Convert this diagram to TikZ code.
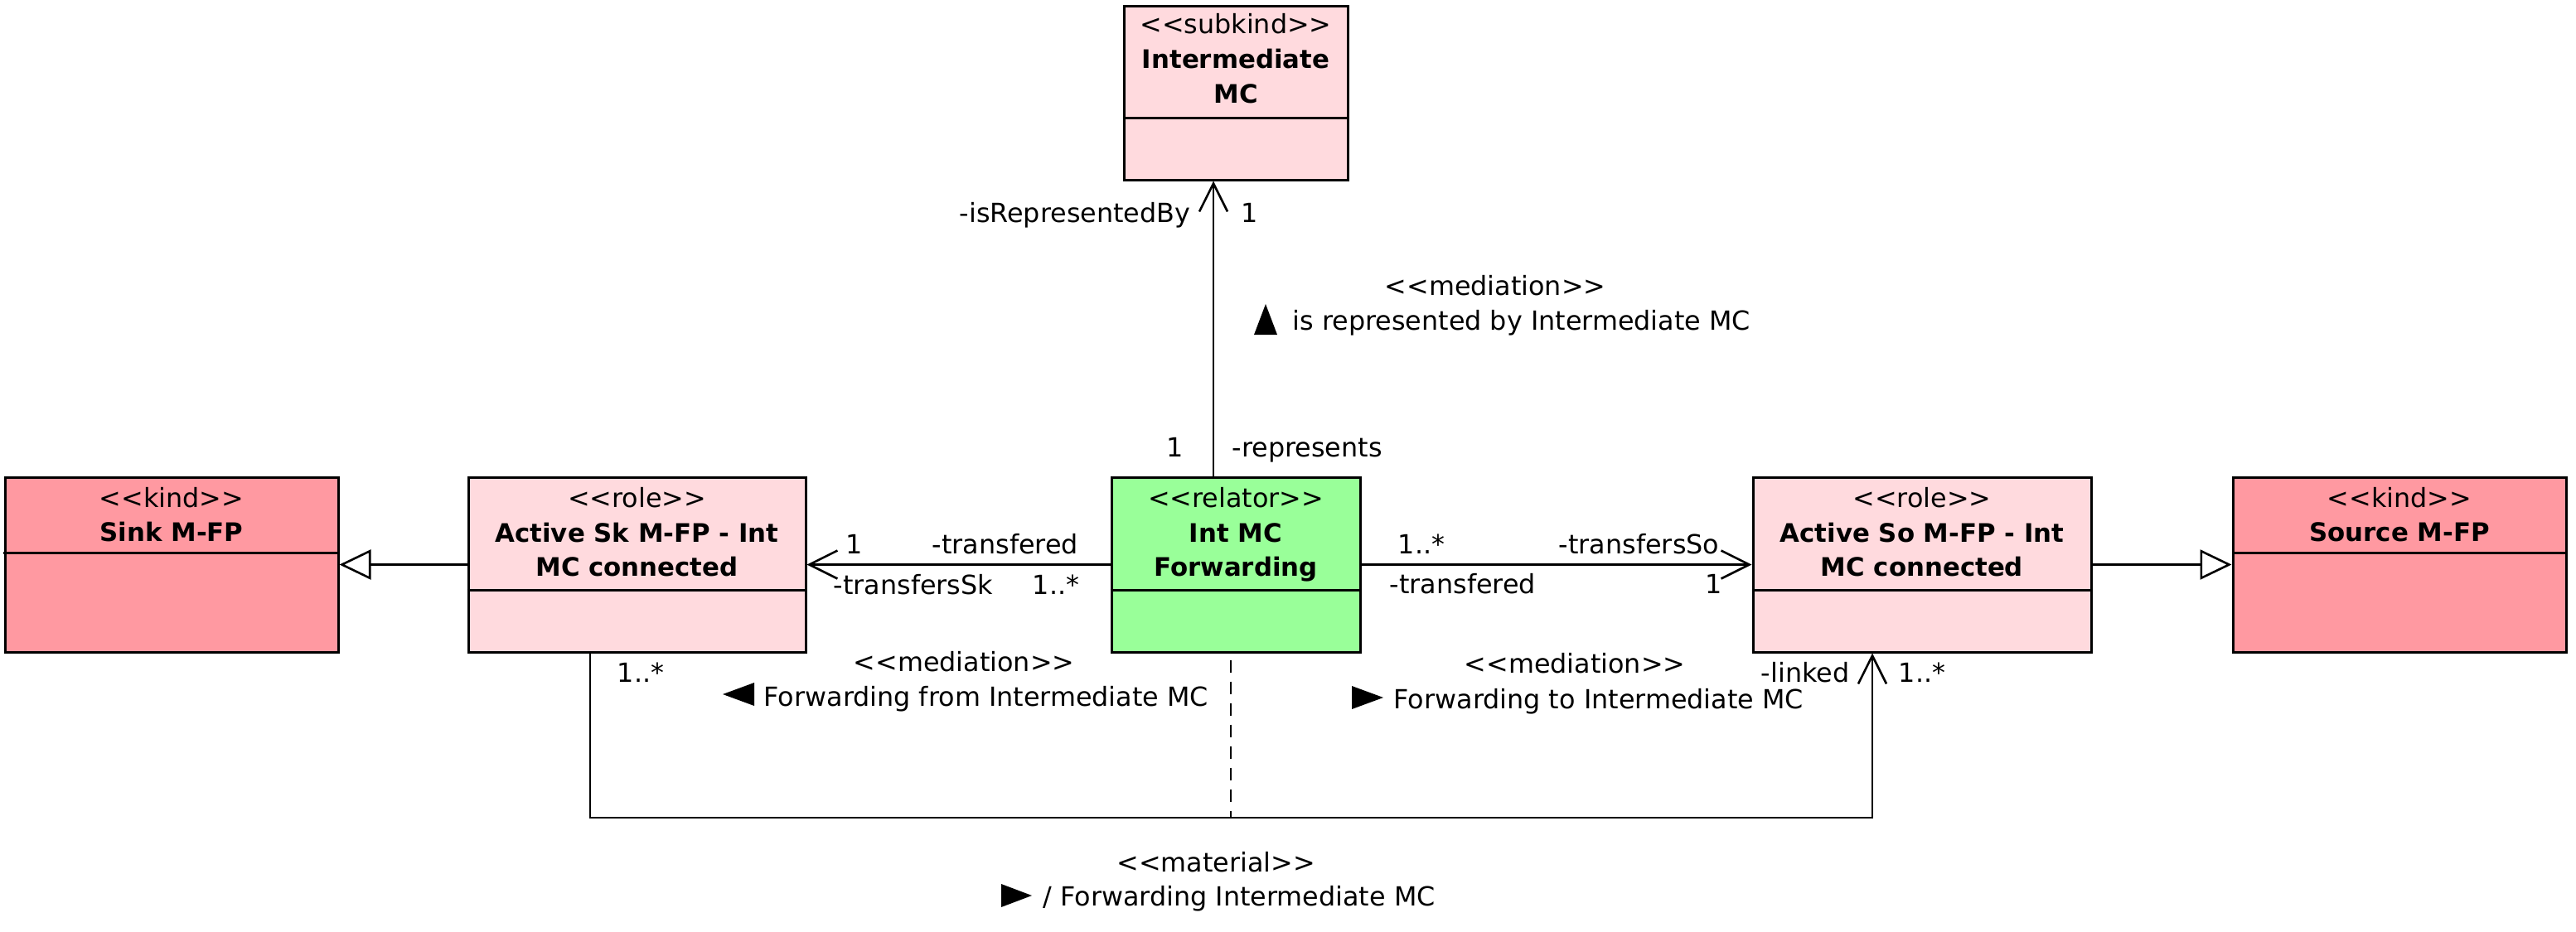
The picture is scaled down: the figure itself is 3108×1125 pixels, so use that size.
\documentclass[tikz,border=0pt]{standalone}
\usepackage{fontspec}
\setmainfont{DejaVu Sans}
\usetikzlibrary{arrows.meta,fit}
\definecolor{kindc}{HTML}{FF99A1}
\definecolor{rolec}{HTML}{FFDADE}
\definecolor{relc}{HTML}{99FF99}
\newcommand{\stereo}[1]{<\kern0pt<#1>\kern0pt>}
\begin{document}
\begin{tikzpicture}[x=0.25pt,y=-0.25pt,
  box/.style={draw,line width=0.75pt,inner sep=0pt},
  txt/.style={inner sep=0pt,font=\fontsize{7.95}{10.25}\selectfont},
  bold/.style={inner sep=0pt,font=\fontsize{7.7}{10.25}\selectfont\bfseries},
  divider/.style={line width=0.75pt},
  conn/.style={line width=0.65pt},
  opena/.style={conn,-{Straight Barb[length=8.5pt,width=8.5pt]}},
  gen/.style={conn,-{Triangle[open,length=9.5pt,width=9pt,fill=white]}},
]
\useasboundingbox (0,0) rectangle (3108,1125);

% boxes
\node[box,fill=rolec,fit={(1356,7) (1626,217)}] (imc) {};
\draw[divider] (imc.west |- 0,142) -- (imc.east |- 0,142);
\node[txt,anchor=base] (imcs) at (imc.center |- 0,40) {\stereo{subkind}};
\node[bold,anchor=base] (imcn1) at (imc.center |- 0,82) {Intermediate};
\node[bold,anchor=base] (imcn2) at (imc.center |- 0,124) {MC};

\node[box,fill=kindc,fit={(6,576) (408,787)}] (sink) {};
\draw[divider] (sink.west |- 0,667) -- (sink.east |- 0,667);
\node[txt,anchor=base] (sinks) at (sink.center |- 0,612) {\stereo{kind}};
\node[bold,anchor=base] (sinkn) at (sink.center |- 0,653) {Sink M-FP};

\node[box,fill=rolec,fit={(565,576) (972,787)}] (ask) {};
\draw[divider] (ask.west |- 0,712) -- (ask.east |- 0,712);
\node[txt,anchor=base] (asks) at (ask.center |- 0,612) {\stereo{role}};
\node[bold,anchor=base] (askn1) at (ask.center |- 0,654) {Active Sk M-FP - Int};
\node[bold,anchor=base] (askn2) at (ask.center |- 0,695) {MC connected};

\node[box,fill=relc,fit={(1341,576) (1641,787)}] (rel) {};
\draw[divider] (rel.west |- 0,712) -- (rel.east |- 0,712);
\node[txt,anchor=base] (rels) at (rel.center |- 0,612) {\stereo{relator}};
\node[bold,anchor=base] (reln1) at (rel.center |- 0,654) {Int MC};
\node[bold,anchor=base] (reln2) at (rel.center |- 0,695) {Forwarding};

\node[box,fill=rolec,fit={(2115,576) (2523,787)}] (aso) {};
\draw[divider] (aso.west |- 0,712) -- (aso.east |- 0,712);
\node[txt,anchor=base] (asos) at (aso.center |- 0,612) {\stereo{role}};
\node[bold,anchor=base] (ason1) at (aso.center |- 0,654) {Active So M-FP - Int};
\node[bold,anchor=base] (ason2) at (aso.center |- 0,695) {MC connected};

\node[box,fill=kindc,fit={(2694,576) (3096,787)}] (src) {};
\draw[divider] (src.west |- 0,667) -- (src.east |- 0,667);
\node[txt,anchor=base] (srcs) at (src.center |- 0,612) {\stereo{kind}};
\node[bold,anchor=base] (srcn) at (src.center |- 0,653) {Source M-FP};

% connectors
\draw[opena] ([xshift=-6.75pt]rel.north) -- ([xshift=-6.75pt]imc.south);
\draw[opena] (rel.west) -- (ask.east);
\draw[opena] (rel.east) -- (aso.west);
\draw[gen] (ask.west) -- (sink.east);
\draw[gen] (aso.east) -- (src.west);
\coordinate (mbot) at (1485,987);
\draw[conn] ([xshift=-14.125pt]ask.south) |- (mbot);
\draw[opena] (mbot) -| ([xshift=-15pt]aso.south);
\draw[conn,dash pattern=on 3.75pt off 2.75pt] ([xshift=-1.5pt,yshift=-2pt]rel.south) -- (mbot);

% labels: top mediation
\node[txt,anchor=base east] (a1) at (1437,268) {-isRepresentedBy};
\node[txt,anchor=base west] (a2) at (1497,268) {1};
\node[txt,anchor=base] (a3) at (1804,356) {\stereo{mediation}};
\node[txt,anchor=base west] (a4) at (1559,398) {is represented by Intermediate MC};
\fill (1527,367) -- (1513,404) -- (1541,404) -- cycle;
\node[txt,anchor=base east] (a5) at (1429,551) {1};
\node[txt,anchor=base west] (a6) at (1486,551) {-represents};

% labels: left association
\node[txt,anchor=base west] (b1) at (1020,668) {1};
\node[txt,anchor=base west] (b2) at (1124,668) {-transfered};
\node[txt,anchor=base west] (b3) at (1005,717) {-transfersSk};
\node[txt,anchor=base west] (b4) at (1245,717) {1..*};

% labels: right association
\node[txt,anchor=base west] (c1) at (1686,668) {1..*};
\node[txt,anchor=base east] (c2) at (2075,668) {-transfersSo};
\node[txt,anchor=base west] (c3) at (1676,716) {-transfered};
\node[txt,anchor=base west] (c4) at (2057,716) {1};

% labels: bottom
\node[txt,anchor=base west] (d1) at (744,823) {1..*};
\node[txt,anchor=base] (d2) at (1163,810) {\stereo{mediation}};
\node[txt,anchor=base west] (d3) at (921,852) {Forwarding from Intermediate MC};
\fill (872,838) -- (910,824) -- (910,852) -- cycle;
\node[txt,anchor=base] (d4) at (1900,812) {\stereo{mediation}};
\node[txt,anchor=base west] (d5) at (1681,855) {Forwarding to Intermediate MC};
\fill (1669,842) -- (1631,828) -- (1631,856) -- cycle;
\node[txt,anchor=base east] (d6) at (2232,823) {-linked};
\node[txt,anchor=base west] (d7) at (2290,823) {1..*};
\node[txt,anchor=base] (d8) at (1467,1052) {\stereo{material}};
\node[txt,anchor=base west] (d9) at (1258,1093) {/ Forwarding Intermediate MC};
\fill (1245,1081) -- (1208,1067) -- (1208,1095) -- cycle;
\end{tikzpicture}
\end{document}
